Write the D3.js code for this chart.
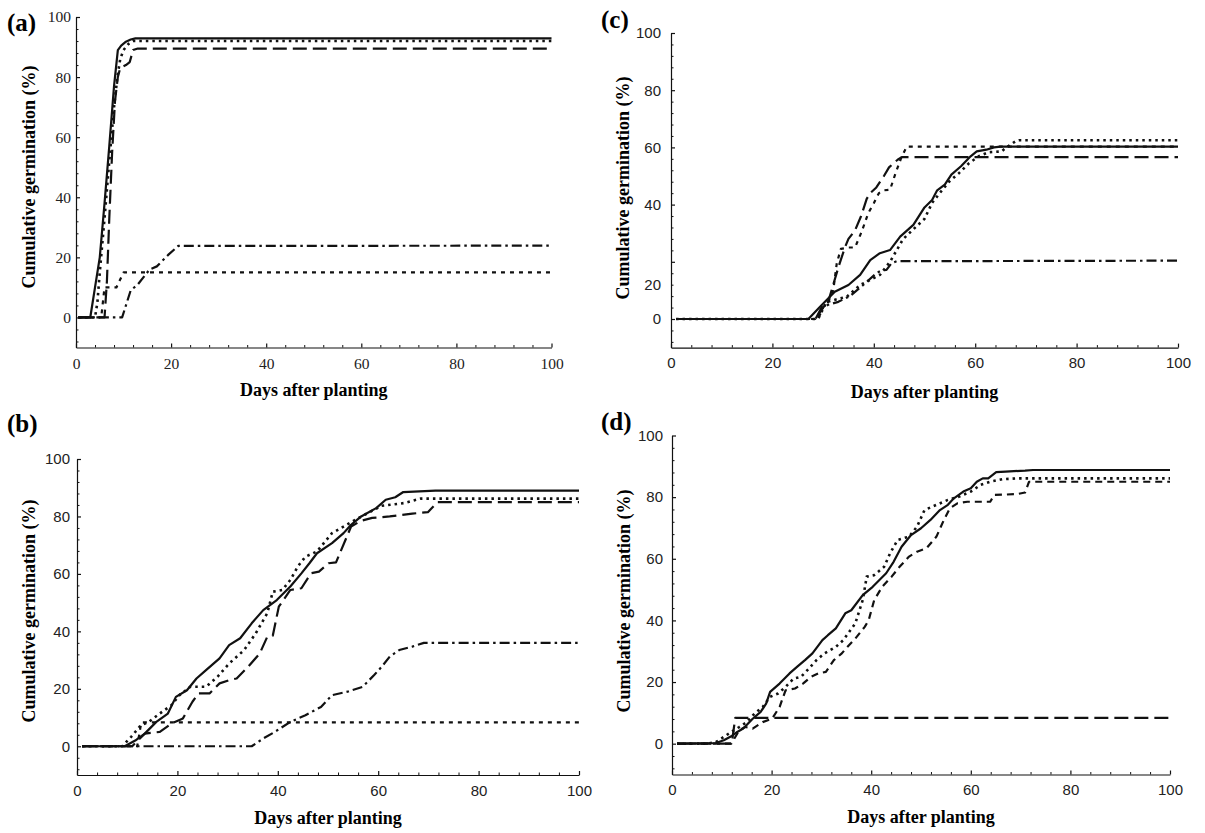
<!DOCTYPE html>
<html>
<head>
<meta charset="utf-8">
<script src="https://cdn.jsdelivr.net/npm/d3@7"></script>
<style>
body{margin:0;background:#fff}
</style>
</head>
<body>
<svg id="fig" width="1205" height="833"></svg>
<script>
var xTicks = [0, 20, 40, 60, 80, 100];
var yTicks = [0, 20, 40, 60, 80, 100];
var xTitle = "Days after planting";
var yTitle = "Cumulative germination (%)";

// (a)  [day, cumulative %]
var a_solid = [[0.5,0],[3,0],[4,10],[5,20],[6,38],[7,57],[8,77],[8.8,89],[9.5,90.5],[10.5,91.8],[11.5,92.5],[12.5,92.9],[100,92.9]];
var a_dotted = [[0.5,0],[4,0],[4.5,5],[5,15],[6,33],[7,52],[8,70],[8.7,80],[9.3,86],[10,89],[11,91],[12,92],[100,92]];
var a_longdash = [[0.5,0],[6,0],[6.5,12],[7,33],[7.6,55],[8.2,72],[8.8,80],[9.3,83],[10.5,84],[11.3,85],[12,89],[13,89.5],[100,89.5]];
var a_shortdash = [[0.5,0],[5.3,0],[6,10],[8.5,10],[10,15],[100,15]];
var a_dashdot = [[0.5,0],[9.7,0],[11.5,9],[13,11],[15.5,16],[17,17],[19.5,21],[21.5,23.8],[100,23.9]];

// (b)
var b_solid = [[1,0],[9.5,0],[11.6,2],[13.5,4.4],[15.8,8.5],[18.1,11.4],[19.7,17.2],[21.9,19.5],[23.8,23.6],[25.7,26.5],[28.4,30.6],[30.3,35.2],[32.5,37.6],[34.8,42.8],[37.1,47.4],[39.8,50.9],[42.5,55.6],[44.7,60.2],[46.3,63.7],[47.8,67.2],[50.8,70.7],[53.1,74.2],[54.6,77.1],[56.6,80],[59.6,82.9],[61.5,85.8],[63.4,86.7],[65,88.5],[71.4,89],[100,89]];
var b_dotted = [[1,0],[9,0],[10.8,3.3],[12.7,7.3],[14.3,8.5],[16.5,11.4],[18.8,14.3],[20.4,17.8],[22.6,20.7],[25.7,20.7],[28,24.2],[30.3,28.8],[33.3,33.5],[35.6,39.3],[37.9,46.3],[39,53.8],[40.9,54.4],[42.5,57.9],[44,62.6],[45.5,66],[47.8,67.8],[50.8,74.2],[53.1,76.5],[55.4,78.8],[58.5,81.7],[60.7,83.7],[65.3,84.7],[68.4,86.2],[100,86.2]];
var b_longdash = [[1,0],[11,0],[13.5,4.4],[16.5,5],[18.8,7.9],[21.1,9.7],[23,15.5],[24.2,18.4],[26.4,18.4],[28.4,21.9],[30.3,23],[31.8,23.6],[34.1,27.7],[36.4,32.3],[37.9,38.1],[39,38.5],[40.2,48.6],[42.5,54.4],[44.7,55],[46.6,60.2],[48.2,60.8],[50.1,63.7],[51.6,64],[54.6,76.5],[56.6,78.5],[58.8,79.5],[62.3,80],[66.8,81],[69.9,81.5],[71.8,85],[100,85]];
var b_shortdash = [[1,0],[12,0],[12.8,8.3],[100,8.3]];
var b_dashdot = [[1,0],[34.8,0],[37.1,2.7],[39.4,5],[42.5,8.5],[45.5,10.8],[48.6,13.7],[50.8,17.8],[53.9,19],[56.9,20.7],[59.2,24.8],[60.7,27.7],[62.3,31.2],[64.2,33.5],[66.8,34.7],[69.1,36],[100,36]];

// (c)
var c_solid = [[1,0],[27.1,0],[29.4,4.3],[32.3,9.5],[35,11.9],[37.3,15.4],[39.3,20.6],[41.2,23],[43.2,24.1],[45.2,28.8],[47.8,32.9],[50,39],[51.5,41.6],[52.5,45],[54,47],[55.3,50.5],[57.2,53.4],[59.1,56.9],[60.3,58.6],[62.2,59.2],[63.7,60],[65,60.3],[100,60.3]];
var c_dotted = [[1,0],[29,0],[30.7,6],[34.7,7.8],[37.3,11.9],[41.2,15.4],[43.2,20],[45.8,28],[47.7,31.2],[50,35],[51.5,40.6],[53,44],[54.9,48.1],[56.8,51],[58.8,54.5],[60.7,56.9],[62.6,58.3],[65.2,58.6],[66,59.8],[67.9,62.1],[68.6,62.5],[100,62.5]];
var c_longdash = [[1,0],[28.5,0],[30,5],[31,6],[32,12],[33,18],[34.3,25],[35,28],[36.3,31],[37.5,36],[38.6,42],[39.3,44],[40.5,46],[42,50],[43,53],[44.7,55.7],[45.5,56.6],[100,56.6]];
var c_shortdash = [[1,0],[29,0],[30,4],[31,6],[32,10],[32.7,19.5],[33.5,24.5],[35,25],[36.3,25],[37.6,30.5],[38.9,37],[40,40.5],[41,44],[42,45],[43.2,45.2],[44.3,51],[45.4,56.3],[46.5,60.3],[100,60.3]];
var c_dashdot = [[1,0],[28.5,0],[30,4],[31,5],[33,6],[35.3,8],[38.3,12.5],[40.5,16],[41.5,17],[42.5,17.2],[43.5,19.5],[44.5,20.2],[100,20.4]];

// (d)
var d_solid = [[1,0],[8.8,0.2],[10.4,1.1],[11.9,2.4],[13.1,3.8],[14.3,4.9],[16.2,8.1],[17.8,10.3],[18.9,13],[19.7,16.8],[21.6,19.5],[23.6,22.8],[25.1,24.9],[26.7,27.1],[28.2,29.3],[30.2,33.6],[31.3,35.2],[32.9,37.4],[34.8,42.3],[36,43.3],[38.3,48.2],[40.3,50.9],[43,55.3],[44.5,59],[46.1,63.9],[48,67.7],[50,69.9],[51.9,72.6],[53.8,75.8],[55.4,77.5],[56.6,79.6],[58.5,81.8],[60,82.9],[61.2,85],[62.4,86.1],[63.5,86.1],[65.1,88.1],[67,88.3],[70.9,88.6],[72.5,88.8],[100,88.8]];
var d_dotted = [[1,0],[7,0],[8.8,0.5],[11.9,3.8],[13.5,5.4],[15,7],[16.6,9.8],[18.2,11.9],[19.7,15.2],[21.3,16.3],[22.8,18.4],[24.4,21.1],[25.9,21.7],[27.5,24.4],[29,27.1],[30.6,29.3],[32.9,31.4],[34.4,33.6],[36.8,39],[38.3,46.6],[39.1,54.2],[40.6,54.7],[42.6,57.4],[43.8,61.8],[45.3,66.1],[47.6,67.2],[49.2,70.4],[50.7,75.8],[53.1,77.5],[55.4,79.1],[57.7,80.2],[60,81.8],[62,84],[63.9,85],[66.3,85.8],[69.4,86.1],[100,86.1]];
var d_longdash = [[1,0],[12,0],[12.7,8.4],[100,8.4]];
var d_dash = [[1,0],[11.9,0],[13.5,4.3],[14.7,5.4],[16.2,4.9],[18.2,7],[20.1,8.1],[21.6,11.9],[22.8,17.3],[24.7,17.9],[26.3,19.5],[27.9,21.7],[29.4,22.8],[30.9,23.3],[32.5,27.1],[34.1,29.3],[35.2,31.4],[36.8,34.1],[38.7,37.9],[39.5,40.1],[40.6,46.6],[42.2,50.9],[44.1,54.2],[45.7,57.4],[47.6,60.7],[49.2,62.3],[51.1,63.4],[53.1,67.2],[54.6,72.6],[55.8,76.4],[57.3,78],[59.3,78.5],[63.9,78.5],[64.7,80.7],[69.4,81],[70.9,81.5],[71.7,85],[100,85]];

// dash styles
var SOLID = null, DOT = "2.5,4", LONG = "14,6", SHORT = "4,5", DASHDOT = "10,4,2.5,4", MED = "7,5";

var serif = "'Liberation Serif','Times New Roman',serif";
var sans = "'Liberation Sans',Arial,sans-serif";

var svg = d3.select("#fig");

function drawPanel(p) {
  var x = d3.scaleLinear().domain([0, 100]).range([p.left, p.right]);
  var y = d3.scaleLinear().domain([-10, 100]).range([p.bottom, p.top]);
  var g = svg.append("g");

  // minor ticks
  var minor = d3.range(-8, 101, 4).filter(function(v){ return v % 20 != 0; });
  g.append("g").attr("transform", "translate(" + p.left + ",0)")
    .call(d3.axisLeft(y).tickValues(minor).tickSize(-2.5).tickFormat(""))
    .call(function(s){ s.select(".domain").remove(); });
  g.append("g").attr("transform", "translate(0," + p.bottom + ")")
    .call(d3.axisBottom(x).tickValues(d3.range(4, 100, 4).filter(function(v){ return v % 20 != 0; })).tickSize(-2.5).tickFormat(""))
    .call(function(s){ s.select(".domain").remove(); });

  var ya = g.append("g").attr("transform", "translate(" + p.left + ",0)")
    .call(d3.axisLeft(y).tickValues(yTicks).tickSize(-4).tickSizeOuter(0).tickPadding(p.ypad));
  var xa = g.append("g").attr("transform", "translate(0," + p.bottom + ")")
    .call(d3.axisBottom(x).tickValues(xTicks).tickSize(-4).tickSizeOuter(0).tickPadding(10));

  [ya, xa].forEach(function(a){
    a.selectAll("text").style("font-family", p.font).style("font-size", p.fs + "px").attr("fill", "#222");
    a.selectAll("line,path").attr("stroke", "#111").attr("stroke-width", 1.2);
  });
  g.selectAll("line").attr("stroke", "#111");

  // the reference has its "20" label set lower than the tick
  if (p.shift) {
    ya.selectAll(".tick text").filter(function(d){ return p.shift[d] != null; })
      .attr("transform", function(d){ return "translate(0," + p.shift[d] + ")"; });
  }

  var line = d3.line().x(function(d){ return x(d[0]); }).y(function(d){ return y(d[1]); });
  p.series.forEach(function(s){
    g.append("path").datum(s.data)
      .attr("d", line)
      .attr("fill", "none")
      .attr("stroke", "#111")
      .attr("stroke-width", s.dash === DOT ? 2.6 : 2.2)
      .attr("stroke-dasharray", s.dash)
      .attr("stroke-linejoin", "round");
  });

  g.append("text").attr("x", (p.left + p.right) / 2).attr("y", p.xtY)
    .attr("text-anchor", "middle").style("font-family", serif).style("font-weight", "bold")
    .style("font-size", "18px").text(xTitle);
  g.append("text").attr("transform", "translate(" + p.ytX + "," + p.ytY + ") rotate(-90)")
    .attr("text-anchor", "middle").style("font-family", serif).style("font-weight", "bold")
    .style("font-size", "18px").text(yTitle);
  g.append("text").attr("x", p.lx).attr("y", p.ly)
    .style("font-family", serif).style("font-weight", "bold").style("font-size", "25px").text(p.letter);
}

drawPanel({letter: "(a)", lx: 7, ly: 31, left: 76, right: 551.5, top: 17, bottom: 347.5,
  font: serif, fs: 15.5, ypad: 5, xtY: 396, ytX: 35, ytY: 177,
  series: [{data: a_dotted, dash: DOT}, {data: a_longdash, dash: LONG}, {data: a_shortdash, dash: SHORT},
           {data: a_dashdot, dash: DASHDOT}, {data: a_solid, dash: SOLID}]});

drawPanel({letter: "(b)", lx: 7, ly: 432, left: 77, right: 579, top: 459, bottom: 775,
  font: sans, fs: 15, ypad: 7, xtY: 824, ytX: 35, ytY: 611,
  series: [{data: b_dotted, dash: DOT}, {data: b_longdash, dash: LONG}, {data: b_shortdash, dash: SHORT},
           {data: b_dashdot, dash: DASHDOT}, {data: b_solid, dash: SOLID}]});

drawPanel({letter: "(c)", lx: 601, ly: 28, left: 671, right: 1178, top: 33, bottom: 347.6,
  font: sans, fs: 15, ypad: 10, xtY: 398, ytX: 629, ytY: 188, shift: {20: 23},
  series: [{data: c_dotted, dash: DOT}, {data: c_longdash, dash: LONG}, {data: c_shortdash, dash: SHORT},
           {data: c_dashdot, dash: DASHDOT}, {data: c_solid, dash: SOLID}]});

drawPanel({letter: "(d)", lx: 601, ly: 430, left: 672, right: 1170, top: 435.5, bottom: 774.5,
  font: sans, fs: 15, ypad: 9, xtY: 823, ytX: 630, ytY: 601,
  series: [{data: d_dotted, dash: DOT}, {data: d_longdash, dash: LONG}, {data: d_dash, dash: MED},
           {data: d_solid, dash: SOLID}]});
</script>
</body>
</html>
